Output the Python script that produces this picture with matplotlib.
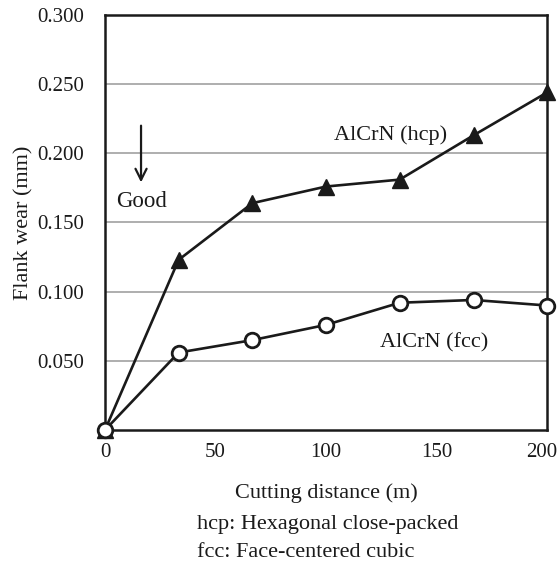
import matplotlib
matplotlib.use("Agg")
import matplotlib.pyplot as plt
from matplotlib.transforms import ScaledTranslation

plt.rcParams['font.family'] = ['Liberation Serif', 'DejaVu Serif']

# Datos
distance = [0, 33.3, 66.7, 100, 133.3, 166.7, 200]
wear_hcp = [0.0, 0.123, 0.164, 0.176, 0.181, 0.213, 0.244]
wear_fcc = [0.0, 0.056, 0.065, 0.076, 0.092, 0.094, 0.090]
x_ticks = [0, 50, 100, 150, 200]
y_ticks = [0.050, 0.100, 0.150, 0.200, 0.250, 0.300]

fig = plt.figure(figsize=(5.6, 5.63), dpi=100)
ax = fig.add_axes([0.1875, 0.2362, 0.7895, 0.7372])

for y in y_ticks[:-1]:
    ax.axhline(y, color='#a8a8a8', lw=1.3, zorder=0)

ax.plot(distance, wear_hcp, color='#1a1a1a', lw=1.9, marker='^', ms=11,
        mfc='#1a1a1a', mec='#1a1a1a', clip_on=False, zorder=3)
ax.plot(distance, wear_fcc, color='#1a1a1a', lw=1.9, marker='o', ms=10.5,
        mfc='white', mec='#1a1a1a', mew=2, clip_on=False, zorder=4)

ax.set_xlim(0, 200)
ax.set_ylim(0, 0.300)
ax.set_xticks(x_ticks)
ax.set_yticks(y_ticks)
ax.set_yticklabels([f"{v:.3f}" for v in y_ticks])
ax.tick_params(length=0, labelsize=15, colors='#1a1a1a')
ax.tick_params(axis='y', pad=15)
ax.tick_params(axis='x', pad=9)
# la etiqueta 200 queda un poco a la izquierda
last = ax.get_xticklabels()[-1]
last.set_transform(last.get_transform() + ScaledTranslation(-4 / 72, 0, fig.dpi_scale_trans))
for s in ax.spines.values():
    s.set_linewidth(1.8)
    s.set_color('#1a1a1a')

ax.set_ylabel("Flank wear (mm)", fontsize=16, color='#1a1a1a', labelpad=3)
ax.set_xlabel("Cutting distance (m)", fontsize=16, color='#1a1a1a', labelpad=16)

ax.text(129, 0.213, "AlCrN (hcp)", fontsize=16, ha='center', va='center', color='#1a1a1a')
ax.text(149, 0.063, "AlCrN (fcc)", fontsize=16, ha='center', va='center', color='#1a1a1a')
ax.text(16.7, 0.165, "Good", fontsize=16.5, ha='center', va='center', color='#1a1a1a')
ax.annotate("", xy=(16.3, 0.177), xytext=(16.3, 0.222),
            arrowprops=dict(arrowstyle='->', lw=1.6, color='#1a1a1a', mutation_scale=20))

fig.text(0.352, 0.0675, "hcp: Hexagonal close-packed", fontsize=16, va='center', color='#1a1a1a')
fig.text(0.352, 0.0195, "fcc: Face-centered cubic", fontsize=16, va='center', color='#1a1a1a')

fig.savefig("out.png", dpi=100)
